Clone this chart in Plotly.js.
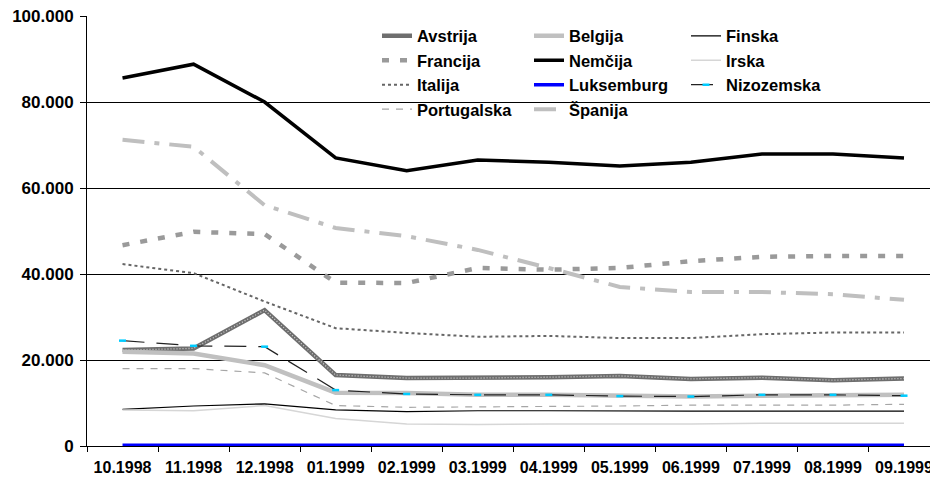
<!DOCTYPE html>
<html>
<head>
<meta charset="utf-8">
<script src="https://cdn.plot.ly/plotly-3.0.1.min.js"></script>
<style>html,body{margin:0;padding:0;background:#fff;}#chart{width:930px;height:478px;}</style>
</head>
<body>
<div id="chart"></div>
<script>
var months = ["10.1998","11.1998","12.1998","01.1999","02.1999","03.1999","04.1999","05.1999","06.1999","07.1999","08.1999","09.1999"];
var yTicks = [0, 20000, 40000, 60000, 80000, 100000];

var avstrija    = [22300, 22700, 31600, 16500, 15800, 15800, 16000, 16300, 15600, 15900, 15300, 15700];
var belgija     = [21900, 21500, 18800, 12400, 12300, 11900, 11900, 11700, 11500, 11700, 11900, 11900];
var finska      = [8500, 9300, 9800, 8400, 8000, 8200, 8200, 8100, 8100, 8100, 8100, 8100];
var francija    = [46700, 49800, 49300, 38000, 37900, 41400, 41000, 41400, 43000, 44000, 44200, 44200];
var nemcija     = [85600, 88800, 80000, 67000, 64000, 66500, 66000, 65100, 66000, 67900, 67900, 67000];
var irska       = [8400, 8200, 9400, 6400, 5100, 5000, 5100, 5100, 5100, 5300, 5300, 5300];
var italija     = [42300, 40200, 33600, 27400, 26300, 25400, 25600, 25100, 25100, 26000, 26400, 26400];
var luksemburg  = [150, 150, 150, 150, 150, 150, 150, 150, 150, 150, 150, 150];
var nizozemska  = [24500, 23300, 23100, 13000, 12100, 11900, 11900, 11600, 11500, 11900, 11900, 11700];
var portugalska = [18000, 18000, 17000, 9400, 9000, 9100, 9100, 9300, 9500, 9500, 9500, 9700];
var spanija     = [71200, 69600, 56000, 50700, 48800, 45600, 41400, 37000, 35800, 35800, 35300, 34000];

function tr(name, y, line, lg, extra) {
  var t = {type: 'scatter', mode: 'lines', name: name, x: months, y: y, line: line, legend: lg};
  if (extra) { for (var k in extra) t[k] = extra[k]; }
  return t;
}

var data = [
  tr('Avstrija', avstrija, {color: '#6e6e6e', width: 4.5}, 'legend'),
  tr('Avstrija', avstrija, {color: '#cfcfcf', width: 1.3, dash: '1px,2px'}, 'legend', {showlegend: false}),
  tr('Belgija', belgija, {color: '#c0c0c0', width: 4.5}, 'legend2'),
  tr('Finska', finska, {color: '#000000', width: 1.2}, 'legend3'),
  tr('Francija', francija, {color: '#9a9a9a', width: 4.5, dash: '7px,11px'}, 'legend'),
  tr('Nemčija', nemcija, {color: '#000000', width: 3.5}, 'legend2'),
  tr('Irska', irska, {color: '#d6d6d6', width: 1.5}, 'legend3'),
  tr('Italija', italija, {color: '#666666', width: 2, dash: 'dot'}, 'legend'),
  tr('Luksemburg', luksemburg, {color: '#0000ff', width: 3.5}, 'legend2'),
  tr('Nizozemska', nizozemska, {color: '#222222', width: 1.2, dash: '22px,12px'}, 'legend3',
     {mode: 'lines+markers', marker: {symbol: 'line-ew', size: 5, color: '#00ccff', line: {color: '#00ccff', width: 2.5}}}),
  tr('Portugalska', portugalska, {color: '#a6a6a6', width: 1.2, dash: '7px,7px'}, 'legend'),
  tr('Španija', spanija, {color: '#bfbfbf', width: 4, dash: '22px,10px,5px,10px'}, 'legend2')
];

var fam = 'Liberation Sans, Arial, sans-serif';
var legFont = {family: fam, size: 16.5, color: '#000', weight: 'bold'};
function leg(x) {
  return {orientation: 'v', x: x, xanchor: 'left', y: 0.994, yanchor: 'top',
          bgcolor: 'rgba(0,0,0,0)', borderwidth: 0, font: legFont, traceorder: 'normal'};
}

var layout = {
  width: 930, height: 478,
  margin: {l: 87, r: 0, t: 16, b: 32, pad: 0, autoexpand: false},
  paper_bgcolor: '#ffffff', plot_bgcolor: '#ffffff',
  separators: ',.',
  showlegend: true,
  font: {family: fam, color: '#000'},
  xaxis: {
    type: 'category',
    range: [-0.5, 11.366],
    showgrid: false,
    showline: true, linecolor: '#000', linewidth: 1,
    ticks: 'outside', ticklen: 5, tickcolor: '#000', tickwidth: 1,
    tickson: 'boundaries',
    tickfont: {family: fam, size: 16, color: '#000', weight: 'bold'},
    ticklabelstandoff: 7,
    zeroline: false,
    fixedrange: true
  },
  yaxis: {
    range: [0, 100000],
    tickvals: yTicks,
    tickformat: ',d',
    showgrid: true, gridcolor: '#000', gridwidth: 1,
    showline: true, linecolor: '#000', linewidth: 1,
    ticks: 'outside', ticklen: 6, tickcolor: '#000',
    tickfont: {family: fam, size: 17, color: '#000', weight: 'bold'},
    ticklabelstandoff: 3,
    zeroline: false,
    fixedrange: true
  },
  shapes: [{
    type: 'rect', xref: 'paper', yref: 'paper', layer: 'between',
    x0: (357 - 87) / 843, x1: (830 - 87) / 843, y0: 1 - (114 - 16) / 430, y1: 1 - (22 - 16) / 430,
    fillcolor: '#ffffff', line: {width: 0}
  }],
  legend: leg((377 - 87) / 843),
  legend2: leg((529 - 87) / 843),
  legend3: leg((686 - 87) / 843)
};

Plotly.newPlot('chart', data, layout, {displayModeBar: false, staticPlot: true});
</script>
</body>
</html>
